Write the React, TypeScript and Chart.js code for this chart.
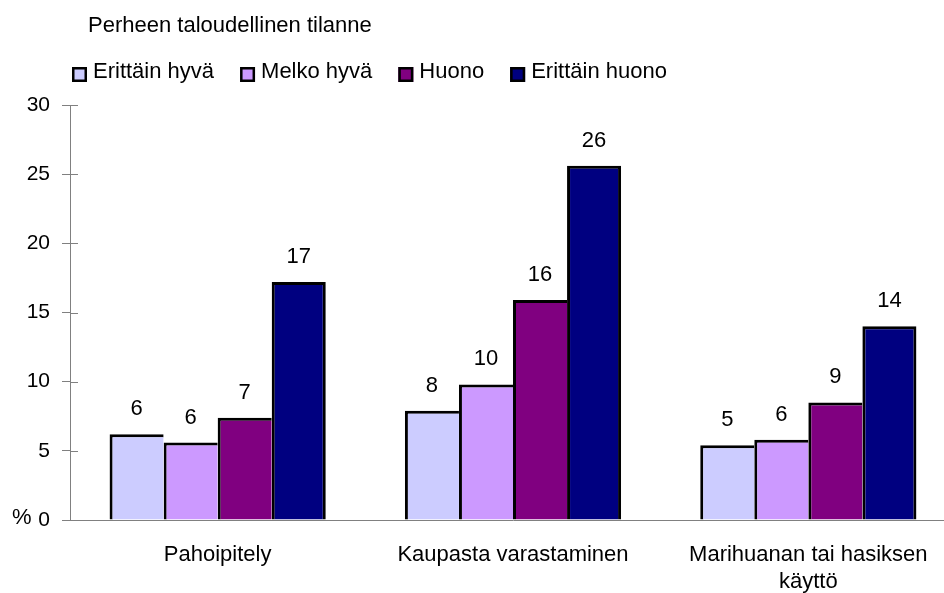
import React, { useEffect, useRef } from "react";
import { Chart, registerables } from "chart.js";

Chart.register(...registerables);

const chartTitle = "Perheen taloudellinen tilanne";
const yUnit = "%";
const categories: (string | string[])[] = [
  "Pahoipitely",
  "Kaupasta varastaminen",
  ["Marihuanan tai hasiksen", "käyttö"],
];
const seriesNames = ["Erittäin hyvä", "Melko hyvä", "Huono", "Erittäin huono"];
const erittainHyva = [6.2, 7.9, 5.4];
const melkoHyva = [5.6, 9.8, 5.8];
const huono = [7.4, 15.9, 8.5];
const erittainHuono = [17.2, 25.6, 14.0];
const yMin = 0;
const yMax = 30;
const yStep = 5;

const seriesValues = [erittainHyva, melkoHyva, huono, erittainHuono];
const seriesColors = ["#CCCCFF", "#CC99FF", "#800080", "#000080"];

const FONT = "'Liberation Sans', Arial, sans-serif";
const FS = 22;
const TICK_FS = 21;
const AXIS_GREY = "#808080";

const dataLabelPlugin = {
  id: "dataLabelPlugin",
  afterDatasetsDraw(chart: any) {
    const ctx = chart.ctx;
    ctx.save();
    ctx.font = `${FS}px ${FONT}`;
    ctx.fillStyle = "#000";
    ctx.textAlign = "center";
    ctx.textBaseline = "middle";
    chart.data.datasets.forEach((ds: any, i: number) => {
      const meta = chart.getDatasetMeta(i);
      meta.data.forEach((el: any, j: number) => {
        const v = ds.data[j];
        ctx.fillText(String(Math.round(v)), el.x, el.y - 25);
      });
    });
    ctx.restore();
  },
};

const overlayPlugin = {
  id: "overlayPlugin",
  afterDraw(chart: any) {
    const ctx = chart.ctx;
    const area = chart.chartArea;
    const yScale = chart.scales.y;
    ctx.save();
    // inward tick stubs (cross tick marks)
    ctx.strokeStyle = AXIS_GREY;
    ctx.lineWidth = 1;
    yScale.ticks.forEach((t: any) => {
      const y = Math.round(yScale.getPixelForValue(t.value)) + 0.5;
      ctx.beginPath();
      ctx.moveTo(area.left, y);
      ctx.lineTo(area.left + 8, y);
      ctx.stroke();
    });
    // title
    ctx.font = `${FS}px ${FONT}`;
    ctx.fillStyle = "#000";
    ctx.textAlign = "left";
    ctx.textBaseline = "alphabetic";
    ctx.fillText(chartTitle, 88, 32);
    // legend
    let x = 72;
    chart.data.datasets.forEach((ds: any) => {
      ctx.fillStyle = ds.backgroundColor;
      ctx.fillRect(x, 67, 15, 15);
      ctx.strokeStyle = "#000";
      ctx.lineWidth = 2.5;
      ctx.strokeRect(x + 1.25, 68.25, 12.5, 12.5);
      ctx.fillStyle = "#000";
      ctx.fillText(ds.label, x + 21, 78);
      x += 21 + ctx.measureText(ds.label).width + 26;
    });
    // unit label
    ctx.textBaseline = "middle";
    ctx.fillText(yUnit, 12, 518);
    ctx.restore();
  },
};

export default function App() {
  const canvasRef = useRef<HTMLCanvasElement | null>(null);

  useEffect(() => {
    const canvas = canvasRef.current;
    if (!canvas) return;
    const chart = new Chart(canvas, {
      type: "bar",
      data: {
        labels: categories,
        datasets: seriesNames.map((name, i) => ({
          label: name,
          data: seriesValues[i],
          backgroundColor: seriesColors[i],
          borderColor: "#000",
          borderWidth:
            i === seriesNames.length - 1
              ? { top: 3, left: 3, right: 3, bottom: 0 }
              : { top: 3, left: 3, right: 0, bottom: 0 },
          borderSkipped: false,
          barPercentage: 1,
          categoryPercentage: 0.732,
        })),
      },
      options: {
        responsive: false,
        animation: false,
        devicePixelRatio: 1,
        layout: { padding: { left: 0, right: 8, top: 105, bottom: 0 } },
        plugins: {
          legend: { display: false },
          title: { display: false },
          tooltip: { enabled: false },
        },
        scales: {
          x: {
            grid: { display: false },
            border: { display: true, color: AXIS_GREY, width: 1 },
            ticks: {
              color: "#000",
              font: { family: FONT, size: FS, lineHeight: 1.23 },
              padding: 13,
              maxRotation: 0,
              minRotation: 0,
              autoSkip: false,
            },
            afterFit: (s: any) => {
              s.height = 73;
            },
          },
          y: {
            min: yMin,
            max: yMax,
            grid: {
              drawOnChartArea: false,
              drawTicks: true,
              tickLength: 8,
              color: AXIS_GREY,
            },
            border: { display: true, color: AXIS_GREY, width: 1 },
            ticks: {
              stepSize: yStep,
              color: "#000",
              font: { family: FONT, size: TICK_FS },
              padding: 12,
            },
            afterFit: (s: any) => {
              s.width = 70;
            },
          },
        },
      },
      plugins: [dataLabelPlugin, overlayPlugin],
    });
    return () => chart.destroy();
  }, []);

  return (
    <div
      style={{
        position: "fixed",
        left: 0,
        top: 0,
        width: 944,
        height: 593,
        overflow: "hidden",
        background: "#fff",
      }}
    >
      <canvas
        ref={canvasRef}
        width={964}
        height={593}
        style={{ display: "block", width: 964, height: 593 }}
      />
    </div>
  );
}
